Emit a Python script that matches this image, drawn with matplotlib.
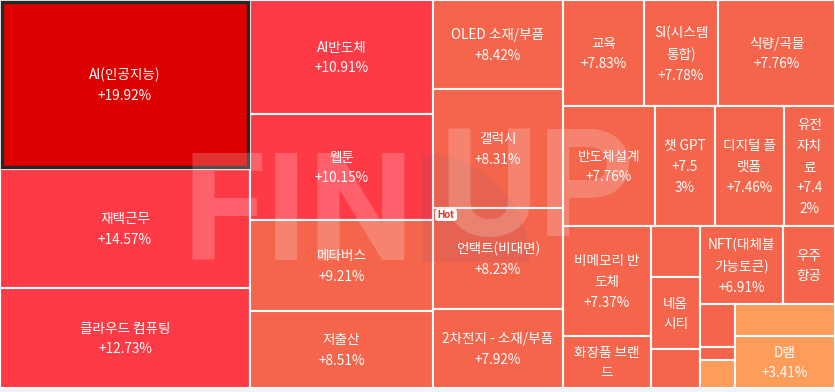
import matplotlib
matplotlib.use("Agg")
import matplotlib.pyplot as plt
from matplotlib.patches import Rectangle, FancyBboxPatch, Wedge

plt.rcParams['font.family'] = ['Noto Sans CJK KR', 'DejaVu Sans']

# themes, in the order the treemap lays them out (largest change first)
names = [
    "AI(인공지능)", "재택근무", "클라우드 컴퓨팅",
    "AI반도체", "웹툰", "메타버스", "저출산",
    "OLED 소재/부품", "갤럭시", "언택트(비대면)", "2차전지 - 소재/부품",
    "교육", "SI(시스템\n통합)", "식량/곡물",
    "반도체설계", "챗 GPT", "디지털 플\n랫폼", "유전\n자치\n료",
    "비메모리 반\n도체", "화장품 브랜\n드",
    "", "네옴\n시티", "",
    "NFT(대체불\n가능토큰)", "우주\n항공",
    "", "", "",
    "", "D램",
]
# daily change, %  (values of unlabeled / clipped tiles are estimates)
changes = [
    19.92, 14.57, 12.73,
    10.91, 10.15, 9.21, 8.51,
    8.42, 8.31, 8.23, 7.92,
    7.83, 7.78, 7.76,
    7.76, 7.53, 7.46, 7.42,
    7.37, 7.30,
    7.21, 7.10, 7.02,
    6.91, 6.85,
    6.50, 5.90, 4.80,
    4.20, 3.41,
]
# change text as shown in each tile (None = clipped away)
pct_text = [
    "+19.92%", "+14.57%", "+12.73%",
    "+10.91%", "+10.15%", "+9.21%", "+8.51%",
    "+8.42%", "+8.31%", "+8.23%", "+7.92%",
    "+7.83%", "+7.78%", "+7.76%",
    "+7.76%", "+7.5\n3%", "+7.46%", "+7.4\n2%",
    "+7.37%", None,
    None, None, None,
    "+6.91%", None,
    None, None, None,
    None, "+3.41%",
]
# tile weights
sizes = [
    422.5, 297.5, 250.0,
    208.6, 194.0, 166.5, 140.9,
    115.7, 154.7, 131.3, 102.7,
    85.9, 78.4, 124.0,
    110.4, 72.0, 82.8, 61.2,
    96.8, 45.8,
    25.0, 35.3, 19.1,
    64.7, 40.6,
    15.1, 4.6, 9.8,
    32.0, 52.0,
]
# how many tiles go in each strip
strips = [3, 4, 4, 3, 4, 2, 3, 2, 3, 2]

W, H = 835.0, 388.0


def strip_layout(vals, counts, x, y, w, h):
    scale = w * h / sum(vals)
    vals = [v * scale for v in vals]
    rects, i = [], 0
    for n in counts:
        grp = vals[i:i + n]
        tot = sum(grp)
        if w >= h:
            cw = tot / h
            yy = y
            for v in grp:
                rects.append((x, yy, cw, v / cw))
                yy += v / cw
            x += cw
            w -= cw
        else:
            rh = tot / w
            xx = x
            for v in grp:
                rects.append((xx, y, v / rh, rh))
                xx += v / rh
            y += rh
            h -= rh
        i += n
    return rects


def tile_color(c):
    if c >= 15:
        return "#dc0000"
    if c >= 10:
        return "#fe3a47"
    if c >= 5:
        return "#f5654c"
    return "#fe9c5a"


rects = strip_layout(sizes, strips, 0, 0, W, H)

fig = plt.figure(figsize=(8.35, 3.92), dpi=100, facecolor="white")
fig.patches.append(Rectangle((0, 0), 1, 4 / 392, transform=fig.transFigure,
                             facecolor="#f1f4f9", edgecolor="none"))
ax = fig.add_axes([0, 4 / 392, 1, 388 / 392])
ax.set_xlim(0, W)
ax.set_ylim(H, 0)
ax.set_axis_off()

for (x, y, w, h), c in zip(rects, changes):
    ax.add_patch(Rectangle((x, y), w, h, facecolor=tile_color(c),
                           edgecolor="white", linewidth=1.5, zorder=1))

# highlighted top tile
x0, y0, w0, h0 = rects[0]
ax.add_patch(Rectangle((x0 + 1.5, y0 + 1.5), w0 - 3.5, h0 - 3.5, fill=False,
                       edgecolor="#262626", linewidth=2.4, zorder=2))

# watermark
ax.add_patch(Wedge((422, 262), 108, 270, 360, facecolor="#5a5a7a",
                   alpha=0.10, edgecolor="none", zorder=3))
wm = dict(color="white", alpha=0.2, fontsize=108, fontweight="bold",
          family="Roboto", va="baseline", ha="left", zorder=3)
ax.text(183, 260, "FIN", **wm)
ax.text(440, 236, "UP", **wm)

for (x, y, w, h), name, pct in zip(rects, names, pct_text):
    lines = [s for s in (name, pct) if s]
    if not lines:
        continue
    ax.text(x + w / 2, y + h / 2 + 1, "\n".join(lines), ha="center",
            va="center", multialignment="center", color="white",
            fontsize=9.8, fontweight="medium", linespacing=1.62, zorder=5)

# "Hot" badge on the 언택트 tile
hx, hy = rects[9][0], rects[9][1]
ax.add_patch(FancyBboxPatch((hx + 2, hy + 1), 22, 12,
                            boxstyle="round,pad=0,rounding_size=3",
                            facecolor="white", edgecolor="none", zorder=6))
ax.text(hx + 13, hy + 7.5, "Hot", color="#e8322c", fontsize=7.5,
        fontweight="bold", family="Roboto", ha="center", va="center", zorder=7)

fig.savefig("out.png", dpi=100, facecolor="white")
